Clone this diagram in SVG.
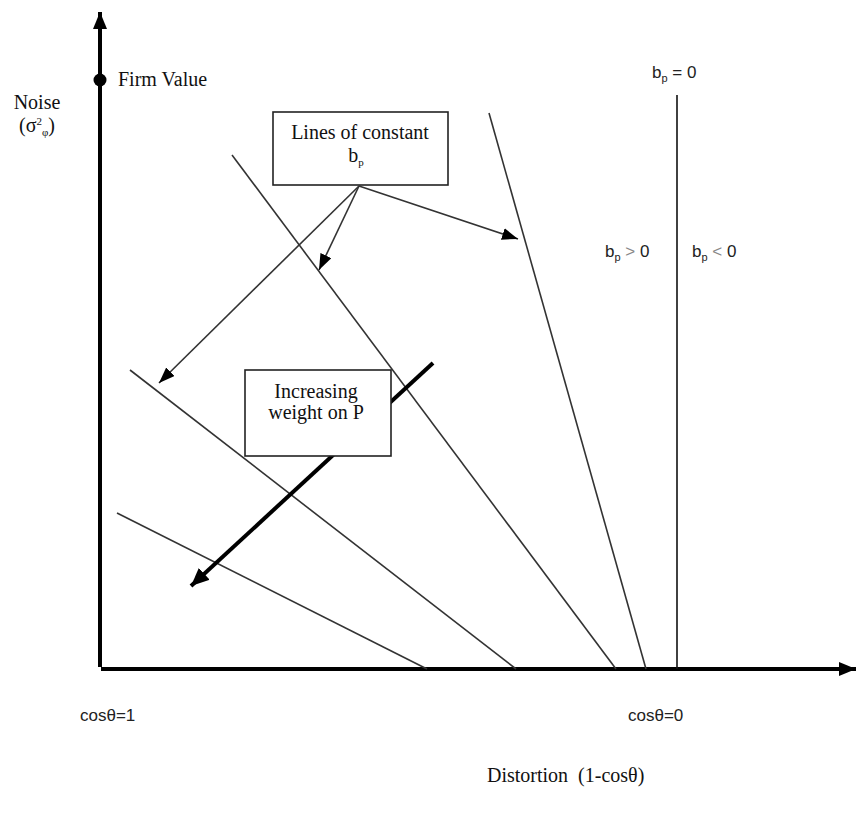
<svg xmlns="http://www.w3.org/2000/svg" width="856" height="816" viewBox="0 0 856 816">
<style>
.serif{font-family:"Liberation Serif","Times New Roman",serif;font-size:20px;fill:#111}
.sans{font-family:"Liberation Sans",Arial,sans-serif;font-size:17px;fill:#222}
.sub{font-size:11px}
.gl{stroke:#333;stroke-width:1.6;fill:none}
.box{fill:#fff;stroke:#222;stroke-width:1.6}
.thin{stroke:#333;stroke-width:1.6;fill:none;marker-end:url(#ah)}
</style>
<defs>
<marker id="ah" markerUnits="userSpaceOnUse" markerWidth="18" markerHeight="14" refX="16" refY="6" orient="auto"><path d="M0,0 L16,6 L0,12 Z" fill="#000"/></marker>
<marker id="ahAxis" markerUnits="userSpaceOnUse" markerWidth="18" markerHeight="16" refX="17" refY="7" orient="auto"><path d="M0,0 L17,7 L0,14 Z" fill="#000"/></marker>
<marker id="ahThick" markerUnits="userSpaceOnUse" markerWidth="20" markerHeight="18" refX="18" refY="8" orient="auto"><path d="M0,0 L18,8 L0,16 Z" fill="#000"/></marker>
</defs>
<rect width="856" height="816" fill="#fff"/>
<g id="connectors">
<line id="axis-y" x1="100" y1="667" x2="100" y2="12" stroke="#000" stroke-width="4" marker-end="url(#ahAxis)"/>
<line id="axis-x" x1="101" y1="669" x2="856" y2="669" stroke="#000" stroke-width="4" marker-end="url(#ahAxis)"/>
<line class="gl" x1="117" y1="513" x2="427" y2="669"/>
<line class="gl" x1="130" y1="370" x2="516" y2="669"/>
<line class="gl" x1="232" y1="155" x2="616" y2="669"/>
<line class="gl" x1="489" y1="113" x2="646" y2="669"/>
<line x1="677" y1="95" x2="677" y2="669" stroke="#111" stroke-width="1.6"/>
<line class="thin" x1="359" y1="186" x2="518" y2="239"/>
<line class="thin" x1="359" y1="186" x2="319" y2="270"/>
<line class="thin" x1="359" y1="186" x2="159" y2="383"/>
<line x1="433" y1="363" x2="191" y2="586" stroke="#000" stroke-width="4" marker-end="url(#ahThick)"/>
</g>
<g id="firm-value">
<circle cx="100" cy="80" r="6.5" fill="#000"/>
<text class="serif" x="118" y="86" font-size="19">Firm Value</text>
</g>
<g id="noise-label">
<text class="serif" x="37" y="109" text-anchor="middle" font-size="19">Noise</text>
<text class="serif" x="37" y="132" text-anchor="middle" font-size="18">(σ<tspan class="sub" dy="-7">2</tspan><tspan class="sub" dy="11">φ</tspan><tspan dy="-4">)</tspan></text>
</g>
<g id="box-lines">
<rect class="box" x="273" y="112" width="175" height="73"/>
<text class="serif" x="360" y="139" text-anchor="middle">Lines of constant</text>
<text class="serif" x="356" y="162" text-anchor="middle">b<tspan class="sub" dy="4">p</tspan></text>
</g>
<g id="box-weight">
<rect class="box" x="245" y="370" width="146" height="86"/>
<text class="serif" x="316" y="398" text-anchor="middle">Increasing</text>
<text class="serif" x="316" y="419" text-anchor="middle">weight on P</text>
</g>
<g id="bp-labels">
<text class="sans" x="652" y="78">b<tspan class="sub" dy="4">p</tspan><tspan dy="-4"> = 0</tspan></text>
<text class="sans" x="605" y="257">b<tspan class="sub" dy="4">p</tspan><tspan dy="-4" fill="#888"> &gt; </tspan>0</text>
<text class="sans" x="692" y="257">b<tspan class="sub" dy="4">p</tspan><tspan dy="-4" fill="#888"> &lt; </tspan>0</text>
</g>
<g id="axis-labels">
<text class="sans" x="80" y="721">cosθ=1</text>
<text class="sans" x="628" y="721">cosθ=0</text>
<text class="serif" x="487" y="782" font-size="18">Distortion &#160;(1-cosθ)</text>
</g>
</svg>
